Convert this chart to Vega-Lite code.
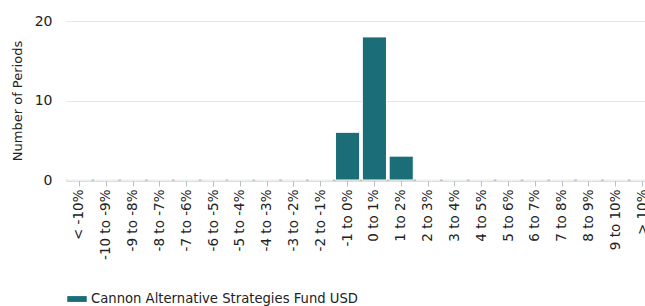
{
  "$schema": "https://vega.github.io/schema/vega-lite/v6.json",
  "autosize": "none",
  "padding": {"left": 66, "top": 21, "right": 0, "bottom": 126},
  "width": 590,
  "height": 159,
  "background": "white",
  "config": {"view": {"stroke": null}, "font": "DejaVu Sans"},
  "data": {"values": [
    {"range": "< -10%", "count": 0, "series": "Cannon Alternative Strategies Fund USD"},
    {"range": "-10 to -9%", "count": 0, "series": "Cannon Alternative Strategies Fund USD"},
    {"range": "-9 to -8%", "count": 0, "series": "Cannon Alternative Strategies Fund USD"},
    {"range": "-8 to -7%", "count": 0, "series": "Cannon Alternative Strategies Fund USD"},
    {"range": "-7 to -6%", "count": 0, "series": "Cannon Alternative Strategies Fund USD"},
    {"range": "-6 to -5%", "count": 0, "series": "Cannon Alternative Strategies Fund USD"},
    {"range": "-5 to -4%", "count": 0, "series": "Cannon Alternative Strategies Fund USD"},
    {"range": "-4 to -3%", "count": 0, "series": "Cannon Alternative Strategies Fund USD"},
    {"range": "-3 to -2%", "count": 0, "series": "Cannon Alternative Strategies Fund USD"},
    {"range": "-2 to -1%", "count": 0, "series": "Cannon Alternative Strategies Fund USD"},
    {"range": "-1 to 0%", "count": 6, "series": "Cannon Alternative Strategies Fund USD"},
    {"range": "0 to 1%", "count": 18, "series": "Cannon Alternative Strategies Fund USD"},
    {"range": "1 to 2%", "count": 3, "series": "Cannon Alternative Strategies Fund USD"},
    {"range": "2 to 3%", "count": 0, "series": "Cannon Alternative Strategies Fund USD"},
    {"range": "3 to 4%", "count": 0, "series": "Cannon Alternative Strategies Fund USD"},
    {"range": "4 to 5%", "count": 0, "series": "Cannon Alternative Strategies Fund USD"},
    {"range": "5 to 6%", "count": 0, "series": "Cannon Alternative Strategies Fund USD"},
    {"range": "6 to 7%", "count": 0, "series": "Cannon Alternative Strategies Fund USD"},
    {"range": "7 to 8%", "count": 0, "series": "Cannon Alternative Strategies Fund USD"},
    {"range": "8 to 9%", "count": 0, "series": "Cannon Alternative Strategies Fund USD"},
    {"range": "9 to 10%", "count": 0, "series": "Cannon Alternative Strategies Fund USD"},
    {"range": "> 10%", "count": 0, "series": "Cannon Alternative Strategies Fund USD"}
  ]},
  "mark": {"type": "bar", "stroke": "white", "strokeWidth": 1},
  "encoding": {
    "x": {
      "field": "range", "type": "nominal", "sort": null,
      "scale": {"paddingInner": 0.1, "paddingOuter": 0.05},
      "axis": {
        "title": null, "labelAngle": -90, "labelFontSize": 13.5, "labelColor": "#222222",
        "domainColor": "#b8c0c0", "domainWidth": 2, "tickColor": "#b8c0c0", "tickSize": 6,
        "labelPadding": 3, "grid": false
      }
    },
    "y": {
      "field": "count", "type": "quantitative",
      "scale": {"domain": [0, 20], "nice": false},
      "axis": {
        "title": "Number of Periods", "titleFontSize": 13, "titleFontWeight": "normal", "titleColor": "#222222",
        "titlePadding": 10,
        "values": [0, 10, 20], "labelFontSize": 14, "labelColor": "#222222", "labelPadding": 14,
        "ticks": false, "domain": false, "gridColor": "#e6e6e6"
      }
    },
    "color": {
      "field": "series", "type": "nominal",
      "scale": {"range": ["#1b6e77"]},
      "legend": {
        "title": null, "orient": "none", "legendX": 1, "legendY": 268,
        "symbolType": "M-1,-0.3H1V0.3H-1Z", "symbolSize": 380, "labelFontSize": 13.2, "labelColor": "#222222",
        "symbolStrokeWidth": 0, "labelLimit": 500, "labelOffset": 4
      }
    }
  }
}
